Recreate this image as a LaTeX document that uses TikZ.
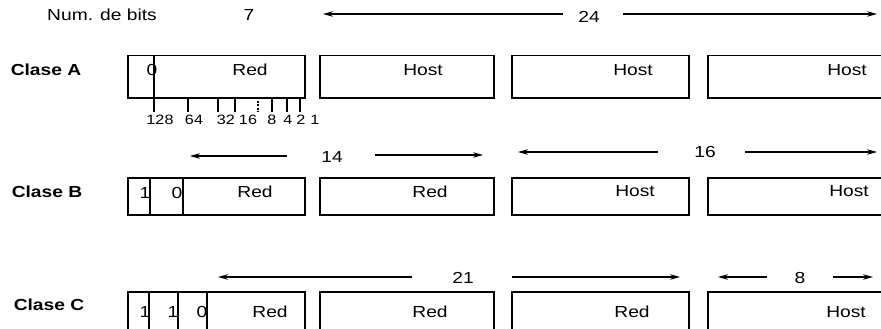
\documentclass[tikz,border=0pt]{standalone}
\usepackage{fontspec}
\setmainfont{Liberation Sans}[FakeStretch=1.2]
\usetikzlibrary{arrows.meta}
\begin{document}
\begin{tikzpicture}[x=1pt,y=-1pt,
  field/.style={draw,line width=1.5pt,inner sep=0pt,anchor=north west},
  divider/.style={line width=1.4pt},
  lbl/.style={font=\fontsize{16}{19}\selectfont,inner sep=0pt},
  cls/.style={font=\fontsize{16}{19}\selectfont\bfseries,inner sep=0pt},
  small/.style={font=\fontsize{13.5}{16}\selectfont,inner sep=0pt},
  dim/.style={line width=1.2pt,-{Stealth[length=10pt,width=5.5pt]}},
  tickline/.style={line width=1.3pt}]
\useasboundingbox (0,0) rectangle (881,329);

% header
\node[lbl] (nb) at (102,15) {Num. de bits};
\node[lbl] (n7) at (249,15) {7};
\node[lbl] (n24) at (589,17) {24};
\coordinate (a24l) at (563,14);
\coordinate (a24le) at (323,14);
\coordinate (a24r) at (623,14);
\coordinate (a24re) at (877,14);
\draw[dim] (a24l) -- (a24le);
\draw[dim] (a24r) -- (a24re);

% class labels
\node[cls] (ca) at (46,70) {Clase A};
\node[cls] (cb) at (47,192) {Clase B};
\node[cls] (cc) at (49,305) {Clase C};

% Row A boxes
\node[field,minimum width=177pt,minimum height=42pt] (a1) at (127,55) {};
\node[field,minimum width=174pt,minimum height=42pt] (a2) at (319,55) {};
\node[field,minimum width=177pt,minimum height=42pt] (a3) at (511,55) {};
\node[field,minimum width=190pt,minimum height=42pt] (a4) at (707,55) {};
\node[lbl] (ta0) at (152,70) {0};
\node[lbl] (ta1) at (250,70) {Red};
\node[lbl] (ta2) at (423,70) {Host};
\node[lbl] (ta3) at (633,70) {Host};
\node[lbl] (ta4) at (847,70) {Host};

% ticks
\draw[tickline] (154,55) -- (154,112);
\foreach \x in {188,218,235,272,287,300}
  \draw[tickline] (\x,97) -- (\x,112);
\draw[tickline,dash pattern=on 2pt off 1.5pt] (258,97) -- (258,112);
\node[small] (w128) at (160,120) {128};
\node[small] (w64) at (194,120) {64};
\node[small] (w32) at (226,120) {32};
\node[small] (w16) at (248,120) {16};
\node[small] (w8) at (272,120) {8};
\node[small] (w4) at (288,120) {4};
\node[small] (w2) at (301,120) {2};
\node[small] (w1) at (315,120) {1};

% Row B arrows
\node[lbl] (n14) at (332,157) {14};
\draw[dim] (287,156) -- (190,156);
\draw[dim] (375,155) -- (483,155);
\node[lbl] (n16) at (705,152) {16};
\draw[dim] (658,152) -- (518,152);
\draw[dim] (745,152) -- (877,152);

% Row B boxes
\node[field,minimum width=177pt,minimum height=37pt] (b1) at (127,177) {};
\node[field,minimum width=174pt,minimum height=37pt] (b2) at (319,177) {};
\node[field,minimum width=177pt,minimum height=37pt] (b3) at (511,177) {};
\node[field,minimum width=190pt,minimum height=37pt] (b4) at (707,177) {};
\draw[divider] (150,177) -- (150,214);
\draw[divider] (183,177) -- (183,214);
\node[lbl] (tb0) at (145,193) {1};
\node[lbl] (tb00) at (177,193) {0};
\node[lbl] (tb1) at (255,192) {Red};
\node[lbl] (tb2) at (430,192) {Red};
\node[lbl] (tb3) at (635,191) {Host};
\node[lbl] (tb4) at (849,191) {Host};

% Row C arrows
\node[lbl] (n21) at (463,278) {21};
\draw[dim] (412,277) -- (218,277);
\draw[dim] (512,277) -- (680,277);
\node[lbl] (n8) at (800,278) {8};
\draw[dim] (767,277) -- (718,277);
\draw[dim] (833,277) -- (873,277);

% Row C boxes
\node[field,minimum width=177pt,minimum height=60pt] (c1) at (127,291) {};
\node[field,minimum width=174pt,minimum height=60pt] (c2) at (319,291) {};
\node[field,minimum width=177pt,minimum height=60pt] (c3) at (511,291) {};
\node[field,minimum width=190pt,minimum height=60pt] (c4) at (707,291) {};
\draw[divider] (149,291) -- (149,340);
\draw[divider] (178,291) -- (178,340);
\draw[divider] (207,291) -- (207,340);
\node[lbl] (tc0) at (145,312) {1};
\node[lbl] (tc00) at (173,312) {1};
\node[lbl] (tc000) at (202,312) {0};
\node[lbl] (tc1) at (270,312) {Red};
\node[lbl] (tc2) at (430,312) {Red};
\node[lbl] (tc3) at (632,312) {Red};
\node[lbl] (tc4) at (846,312) {Host};
\end{tikzpicture}
\end{document}
